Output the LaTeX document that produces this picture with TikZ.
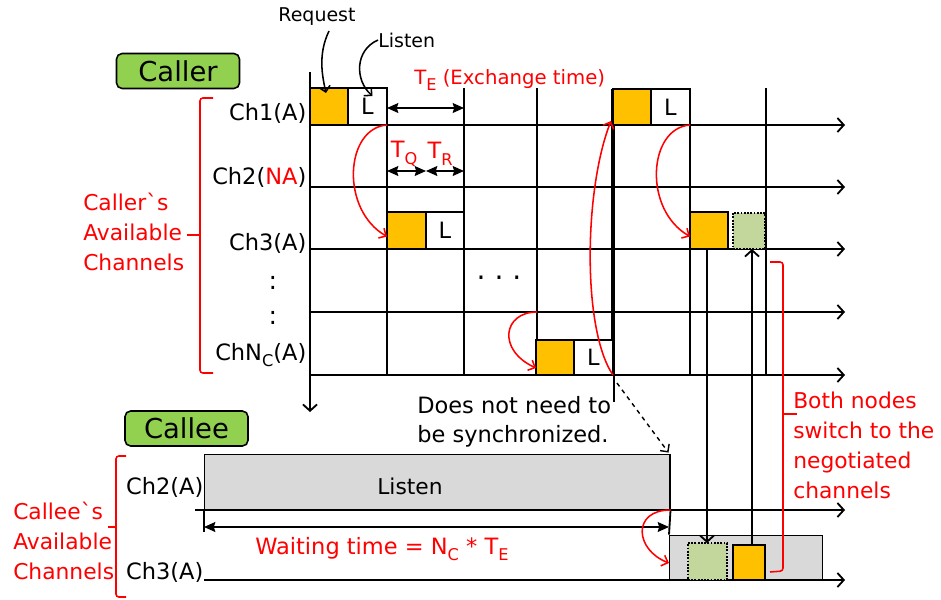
\documentclass[tikz,border=0pt]{standalone}
\usepackage{fontspec}
\setmainfont{DejaVu Sans}
\usetikzlibrary{arrows.meta,calc,positioning}
\definecolor{reqorange}{HTML}{FFC000}
\definecolor{negogreen}{HTML}{C3D69B}
\definecolor{rolegreen}{HTML}{92D050}
\definecolor{listengray}{HTML}{D9D9D9}
\newcommand\lowsub[1]{\raisebox{-0.55ex}{\fontsize{11.5}{11.5}\selectfont #1}}
\tikzset{
	chline/.style={line width=1.3pt, -{Straight Barb[length=4.5pt,width=10pt]}},
	gridline/.style={line width=1.3pt},
	timearrow/.style={line width=1.3pt, {Stealth[length=8pt,width=7pt,inset=1pt]}-{Stealth[length=8pt,width=7pt,inset=1pt]}},
	hop/.style={red, line width=1.1pt, -{Straight Barb[length=4pt,width=8pt]}},
	pointer/.style={line width=1.1pt, -{Straight Barb[length=4pt,width=8pt]}},
	slot/.style={draw, line width=1.3pt, inner sep=0pt, outer sep=0pt, anchor=south west, minimum width=0.95cm, minimum height=0.925cm, font=\fontsize{16}{16}\selectfont},
	reqslot/.style={slot, fill=reqorange},
	lslot/.style={slot, fill=white},
	negslot/.style={slot, fill=negogreen, densely dotted, line width=1.5pt},
	grayslot/.style={draw, line width=1pt, fill=listengray, inner sep=0pt, anchor=south west},
	chlabel/.style={anchor=east, inner sep=1pt, font=\fontsize{16}{16}\selectfont},
	redtext/.style={text=red, align=left, inner sep=0pt, anchor=west, font=\fontsize{15.5}{21.3}\selectfont},
	plaintext/.style={inner sep=0pt, font=\fontsize{16}{16}\selectfont},
	role/.style={draw, line width=1.1pt, fill=rolegreen, rounded corners=4pt, inner sep=0pt, minimum width=3.075cm, minimum height=0.875cm, font=\fontsize{19.5}{19.5}\selectfont},
	brace/.style={red, line width=1.1pt, rounded corners=2pt},
}

\begin{document}
\begin{tikzpicture}[x=0.025cm, y=-0.025cm]
		%%%%% START %%%%%
		\useasboundingbox (0,0) rectangle (941,599);
		
		% caller: time axis, channels and slots
		\draw[chline] (310,72) -- (310,412);
		\foreach \y in {125,187,249,312,375}
			\draw[chline] (310,\y) -- (845,\y);
		\foreach \x in {387,464,537,690,766}
			\draw[gridline] (\x,88) -- (\x,375);
		\draw[line width=2.8pt] (613,89) -- (613,375);
		\draw[gridline] (614,375) -- (614,402);
		\coordinate (hopN) at (537,312);
		\coordinate (sync) at (617,383);
		\coordinate (switch3) at (707,249);
		
		\node[reqslot] (req1) at (310,125) {};
		\node[lslot, minimum width=0.975cm] (lis1) at (348,125) {L};
		\node[reqslot, minimum width=0.975cm] (req3) at (387,249) {};
		\node[lslot] (lis3) at (426,249) {L};
		\node[reqslot, minimum height=0.875cm] (reqN) at (536,375) {};
		\node[lslot, minimum width=0.975cm, minimum height=0.875cm] (lisN) at (574,375) {L};
		\node[reqslot, minimum height=0.9cm] (req1b) at (613,125) {};
		\node[lslot, minimum width=0.975cm, minimum height=0.9cm] (lis1b) at (651,125) {L};
		\node[reqslot] (req3b) at (690,249) {};
		\node[negslot, minimum width=0.8cm, minimum height=0.9cm] (neg3) at (733,249) {};
		
		\node[role] (caller) at (178,71) {Caller};
		\node[chlabel] (ch1) at (308,113) {Ch1(A)};
		\node[chlabel] (ch2) at (308,177) {Ch2(\textcolor{red}{NA})};
		\node[chlabel] (ch3) at (308,243) {Ch3(A)};
		\node[plaintext, font=\fontsize{18}{18}\selectfont] (dotsA) at (273,283) {:};
		\node[plaintext, font=\fontsize{18}{18}\selectfont] (dotsB) at (273,318) {:};
		\node[chlabel] (chN) at (308,355) {ChN\lowsub{C}(A)};
		\node[plaintext, font=\fontsize{20}{20}\selectfont] (dotsC) at (499,282) {· · ·};
		
		\node[plaintext, font=\fontsize{13.5}{13.5}\selectfont] (reqtxt) at (317,17) {Request};
		\node[plaintext, font=\fontsize{13.5}{13.5}\selectfont, anchor=west] (listxt) at (378,40) {Listen};
		\draw[pointer] (329,31) .. controls +(-11,23) and +(-4,-18) .. ($(req1.north)+(-3,5)$);
		\draw[pointer] (listxt.west) .. controls +(-23,10) and +(-18,-16) .. ($(lis1.north)+(5,8)$);
		
		% exchange times
		\coordinate (te1) at (387,108);
		\coordinate (te2) at (464,108);
		\coordinate (tq1) at (387,171);
		\coordinate (tq2) at (426,171);
		\coordinate (tq3) at (464,171);
		\draw[timearrow] (te1) -- (te2);
		\draw[timearrow] (tq1) -- (tq2);
		\draw[timearrow] (tq2) -- (tq3);
		\node[redtext, font=\fontsize{14}{14}\selectfont] (tetxt) at (414,80) {T\lowsub{E} (Exchange time)};
		\node[plaintext, text=red] (tqtxt) at (404,154) {T\lowsub{Q}};
		\node[plaintext, text=red] (trtxt) at (440,154) {T\lowsub{R}};
		
		\draw[brace] (213,98) -- (200,98) -- (200,373) -- (213,373);
		\draw[brace] (200,235) -- (187,235);
		\node[redtext] (callerav) at (83,232) {Caller\textasciigrave s\\Available\\Channels};
		
		% callee
		\node[role] (callee) at (186.5,428.5) {Callee};
		\node[grayslot, minimum width=11.625cm, minimum height=1.375cm] (listen) at (204,510) {};
		\node[plaintext, font=\fontsize{15.5}{15.5}\selectfont] (listentxt) at (410,486) {Listen};
		\node[grayslot, minimum width=3.825cm, minimum height=1.1cm] (grayc) at (669,580) {};
		\draw[chline] (195,510) -- (845,510);
		\draw[chline] (204,580) -- (845,580);
		\node[negslot, minimum width=0.975cm] (negc) at (688,580) {};
		\node[reqslot, minimum width=0.8cm, minimum height=0.875cm] (reqc) at (733,580) {};
		\node[chlabel] (cch2) at (205,487) {Ch2(A)};
		\node[chlabel] (cch3) at (205,572) {Ch3(A)};
		\coordinate (switchc) at (752,545);
		
		\draw[gridline] (listen.south west) -- ++(0,22);
		\draw[gridline] (listen.south east) -- (grayc.north west);
		\coordinate (wait1) at (204,527);
		\coordinate (wait2) at (669,527);
		\draw[timearrow] (wait1) -- (wait2);
		\node[redtext, font=\fontsize{16}{16}\selectfont] (waittxt) at (255,549) {Waiting time = N\lowsub{C} * T\lowsub{E}};
		
		\draw[brace] (126,456) -- (116,456) -- (116,597) -- (126,597);
		\draw[brace] (116,527) -- (108,527);
		\node[redtext] (calleeav) at (13,541) {Callee\textasciigrave s\\Available\\Channels};
		
		\node[plaintext, align=left, anchor=west, font=\fontsize{16}{20.6}\selectfont] (synctxt) at (417,422) {Does not need to\\be synchronized.};
		\draw[pointer, dashed, line width=1pt] (sync) -- ($(listen.north east)+(-2,-1)$);
		
		% hops between channels
		\draw[hop] (lis1.south east) .. controls +(-42,3) and +(-47,-27) .. ($(req3.west)+(0,6)$);
		\draw[hop] (hopN) .. controls +(-34,0) and +(-39,-18) .. ($(reqN.south west)+(0,-7)$);
		\draw[hop] (lisN.south east) .. controls +(-31,-45) and +(-27,68) .. ($(req1b.south west)+(-2,-4)$);
		\draw[hop] (lis1b.south east) .. controls +(-42,3) and +(-47,-27) .. ($(req3b.west)+(0,6)$);
		\draw[hop] (listen.south east) .. controls +(-39,0) and +(-34,-13) .. ($(grayc.south west)+(0,-17)$);
		
		% switch to negotiated channels
		\draw[chline] (switch3) -- (switch3 |- negc.north);
		\draw[chline] (switchc) -- (switchc |- neg3.south);
		\draw[brace] (770,262) -- (783,262) -- (783,571) -- (770,572);
		\draw[brace] (783,414) -- (797,414);
		\node[redtext] (bothtxt) at (793,445) {Both nodes\\switch to the\\negotiated\\channels};
		
		%%%%% END %%%%%
\end{tikzpicture}
\end{document}
